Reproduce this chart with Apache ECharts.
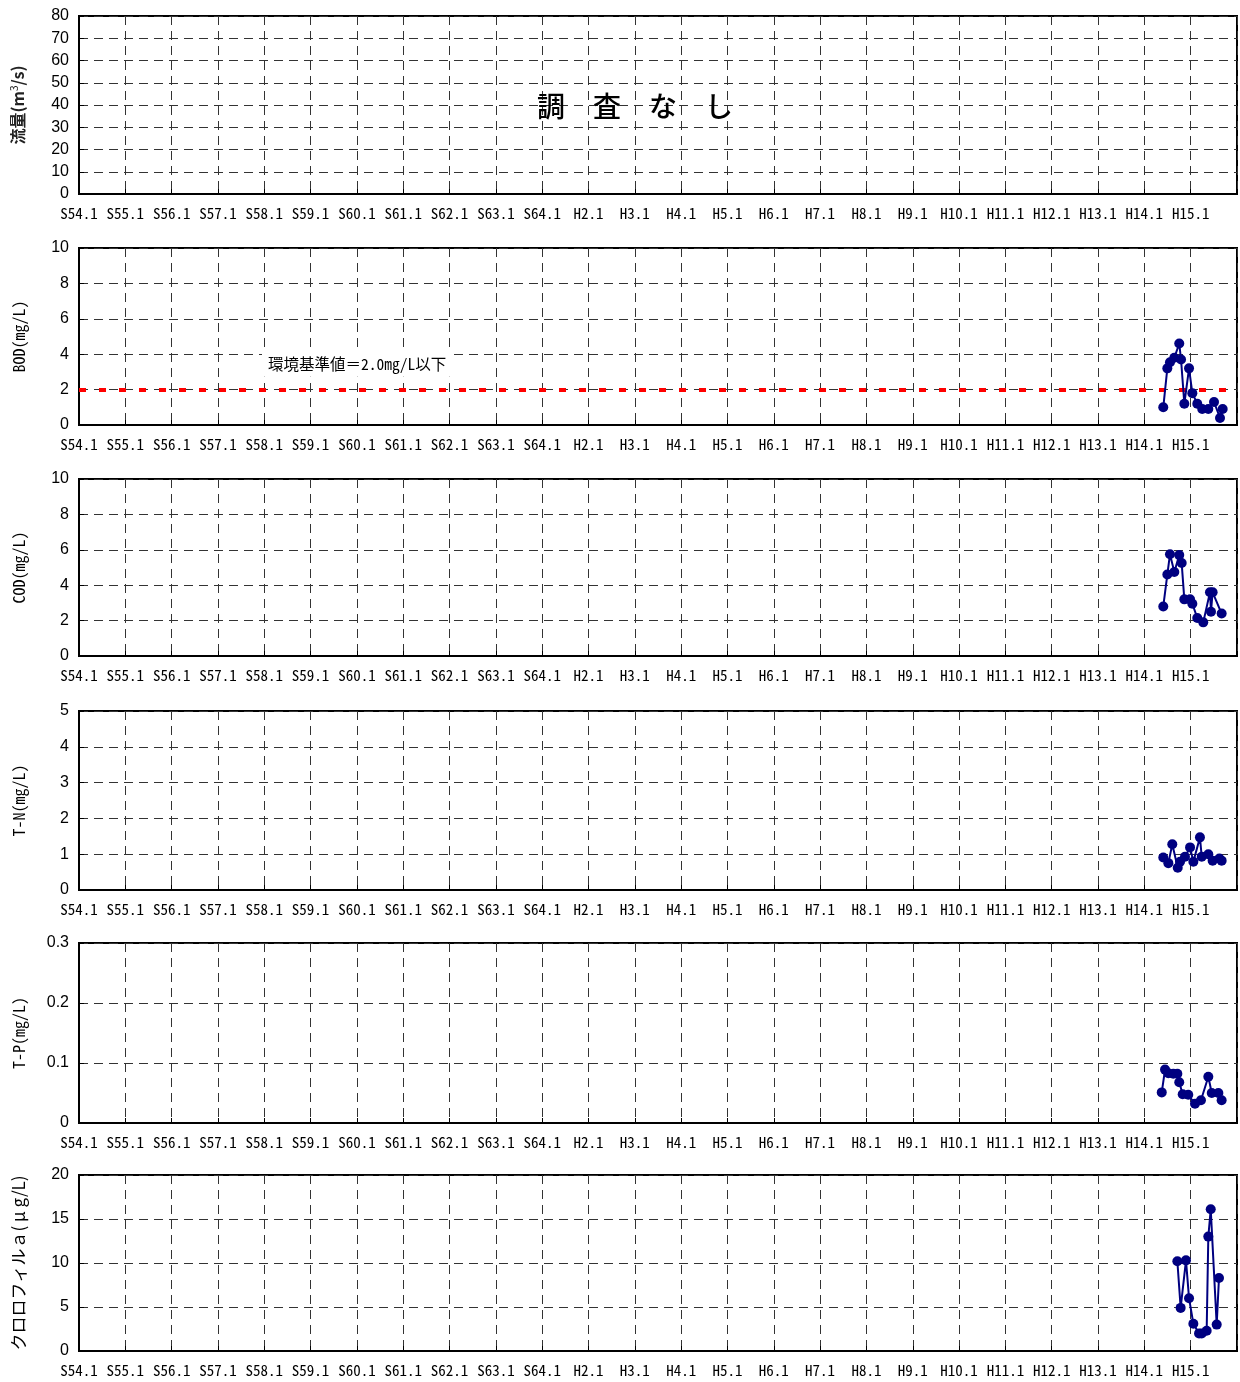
<!DOCTYPE html>
<html>
<head>
<meta charset="utf-8">
<script src="https://cdn.jsdelivr.net/npm/echarts@6/dist/echarts.min.js"></script>
<style>
  html, body { margin: 0; padding: 0; background: #fff; }
  #chart { width: 1240px; height: 1382px; }
</style>
</head>
<body>
<div id="chart"></div>
<script>
// Year tick labels (Showa / Heisei era, January of each year from 1979)
const tickLabels = [
  'S54.1', 'S55.1', 'S56.1', 'S57.1', 'S58.1', 'S59.1', 'S60.1', 'S61.1', 'S62.1', 'S63.1', 'S64.1',
  'H2.1', 'H3.1', 'H4.1', 'H5.1', 'H6.1', 'H7.1', 'H8.1', 'H9.1', 'H10.1', 'H11.1', 'H12.1',
  'H13.1', 'H14.1', 'H15.1'
];
const firstYear = 1979;
const lastYear = 2004;

// Flow rate: no survey carried out
const flowDates = [];
const flowValues = [];

// BOD (mg/L)
const bodDates = [
  '2002-05-30', '2002-07-01', '2002-07-22', '2002-08-25', '2002-10-03', '2002-10-17',
  '2002-11-12', '2002-12-19', '2003-01-14', '2003-02-22', '2003-04-02', '2003-05-20',
  '2003-07-04', '2003-08-20', '2003-09-10'
];
const bodValues = [1.0, 3.2, 3.55, 3.8, 4.6, 3.7, 1.2, 3.2, 1.8, 1.2, 0.9, 0.9, 1.3, 0.4, 0.9];
const bodStandard = 2.0;

// COD (mg/L)
const codDates = [
  '2002-05-30', '2002-07-01', '2002-07-22', '2002-08-25', '2002-10-03', '2002-10-22',
  '2002-11-12', '2002-12-27', '2003-01-14', '2003-02-22', '2003-04-10', '2003-06-02',
  '2003-06-10', '2003-06-23', '2003-09-02'
];
const codValues = [2.8, 4.6, 5.75, 4.75, 5.7, 5.25, 3.2, 3.2, 2.95, 2.15, 1.9, 3.6, 2.5, 3.6, 2.4];

// T-N (mg/L)
const tnDates = [
  '2002-05-30', '2002-07-09', '2002-08-09', '2002-09-21', '2002-10-09', '2002-11-17',
  '2002-12-27', '2003-01-22', '2003-03-15', '2003-03-29', '2003-05-20', '2003-06-23',
  '2003-08-15', '2003-09-02'
];
const tnValues = [0.91, 0.75, 1.28, 0.62, 0.79, 0.93, 1.19, 0.79, 1.47, 0.93, 1.0, 0.82, 0.88, 0.82];

// T-P (mg/L)
const tpDates = [
  '2002-05-18', '2002-06-13', '2002-07-09', '2002-08-17', '2002-09-18', '2002-10-03',
  '2002-10-30', '2002-12-13', '2003-02-04', '2003-03-23', '2003-05-20', '2003-06-16',
  '2003-08-07', '2003-09-02'
];
const tpValues = [0.051, 0.089, 0.083, 0.082, 0.082, 0.068, 0.048, 0.047, 0.032, 0.038, 0.077, 0.050, 0.050, 0.038];

// Chlorophyll a (μg/L)
const chlDates = [
  '2002-09-18', '2002-10-14', '2002-11-25', '2002-12-19', '2003-01-22', '2003-03-08',
  '2003-03-29', '2003-05-07', '2003-05-20', '2003-06-08', '2003-07-25', '2003-08-12'
];
const chlValues = [10.2, 4.9, 10.3, 6.0, 3.1, 2.0, 2.0, 2.3, 13.0, 16.1, 3.0, 8.3];

// Date string -> fractional year, so samples sit on the yearly value axis
function toYear(s) {
  const d = new Date(s + 'T00:00:00Z');
  const y = d.getUTCFullYear();
  const start = Date.UTC(y, 0, 1);
  const end = Date.UTC(y + 1, 0, 1);
  return y + (d.getTime() - start) / (end - start);
}
function pairs(dates, values) {
  return dates.map((d, i) => [toYear(d), values[i]]);
}

const MONO = "'Noto Sans Mono CJK JP', 'DejaVu Sans Mono', monospace";
const JP = "'Noto Sans CJK JP', sans-serif";

const panels = [
  { name: '{a|流量(m}{sup|3}{a|/s)}', min: 0, max: 80, interval: 10, data: pairs(flowDates, flowValues), top: 16, height: 178 },
  { name: '{m|BOD(mg/L)}', min: 0, max: 10, interval: 2, data: pairs(bodDates, bodValues), top: 248, height: 177 },
  { name: '{m|COD(mg/L)}', min: 0, max: 10, interval: 2, data: pairs(codDates, codValues), top: 479, height: 177 },
  { name: '{m|T-N(mg/L)}', min: 0, max: 5, interval: 1, data: pairs(tnDates, tnValues), top: 711, height: 179 },
  { name: '{m|T-P(mg/L)}', min: 0, max: 0.3, interval: 0.1, data: pairs(tpDates, tpValues), top: 943, height: 180 },
  { name: '{c|クロロフィルａ( μ g/L)}', min: 0, max: 20, interval: 5, data: pairs(chlDates, chlValues), top: 1175, height: 176 }
];

const splitStyle = { color: '#333', width: 1, type: [9, 6] };

const option = {
  animation: false,
  backgroundColor: '#ffffff',
  grid: panels.map(p => ({
    left: 79, width: 1158, top: p.top, height: p.height,
    show: true, borderColor: '#000', borderWidth: 2, backgroundColor: 'transparent'
  })),
  xAxis: panels.map((p, i) => ({
    type: 'value', gridIndex: i, min: firstYear, max: lastYear, interval: 1,
    axisLine: { show: true, lineStyle: { color: '#000', width: 2 } },
    axisTick: { show: true, inside: true, length: 5, lineStyle: { color: '#000' } },
    splitLine: { show: true, lineStyle: splitStyle },
    axisLabel: {
      margin: 12, color: '#000', fontFamily: MONO, fontSize: 15,
      formatter: v => tickLabels[Math.round(v - firstYear)] || ''
    }
  })),
  yAxis: panels.map((p, i) => ({
    type: 'value', gridIndex: i, min: p.min, max: p.max, interval: p.interval,
    name: p.name, nameLocation: 'middle', nameRotate: 90, nameGap: 52,
    nameTextStyle: {
      rich: {
        a: { fontFamily: JP, fontSize: 16, fontWeight: 'bold', color: '#222' },
        c: { fontFamily: JP, fontSize: 17, color: '#000' },
        m: { fontFamily: MONO, fontSize: 16, color: '#000' },
        sup: { fontFamily: JP, fontSize: 10, color: '#222', verticalAlign: 'top', padding: [0, 0, 8, 0] }
      }
    },
    axisLine: { show: true, lineStyle: { color: '#000', width: 2 } },
    axisTick: { show: true, inside: true, length: 5, lineStyle: { color: '#000' } },
    splitLine: { show: true, lineStyle: splitStyle },
    axisLabel: {
      margin: 10, color: '#000', fontFamily: "'Liberation Sans', Arial, sans-serif", fontSize: 16,
      formatter: v => String(Math.round(v * 10) / 10)
    }
  })),
  series: panels.map((p, i) => {
    const s = {
      type: 'line', xAxisIndex: i, yAxisIndex: i, data: p.data,
      symbol: 'circle', symbolSize: 10,
      lineStyle: { color: '#000080', width: 2 },
      itemStyle: { color: '#000080' },
      z: 5
    };
    if (i === 1) {
      s.markLine = {
        silent: true, symbol: ['none', 'none'],
        label: { show: false },
        lineStyle: { color: '#ff0000', width: 4, type: [7, 13] },
        data: [{ yAxis: bodStandard }]
      };
    }
    return s;
  }),
  graphic: [
    {
      type: 'text', x: 635, y: 106, z: 10,
      style: {
        text: '調　査　な　し', font: "500 28px 'Noto Sans CJK JP'", fill: '#000',
        align: 'center', verticalAlign: 'middle'
      }
    },
    {
      type: 'text', x: 262, y: 364, z: 10,
      style: {
        text: '環境基準値＝2.0mg/L以下', font: "15.5px 'Noto Sans Mono CJK JP', 'Noto Sans CJK JP'", fill: '#000',
        align: 'left', verticalAlign: 'middle',
        backgroundColor: '#fff', padding: [5, 6]
      }
    }
  ]
};

const chart = echarts.init(document.getElementById('chart'), null, { renderer: 'canvas' });
chart.setOption(option);
</script>
</body>
</html>
